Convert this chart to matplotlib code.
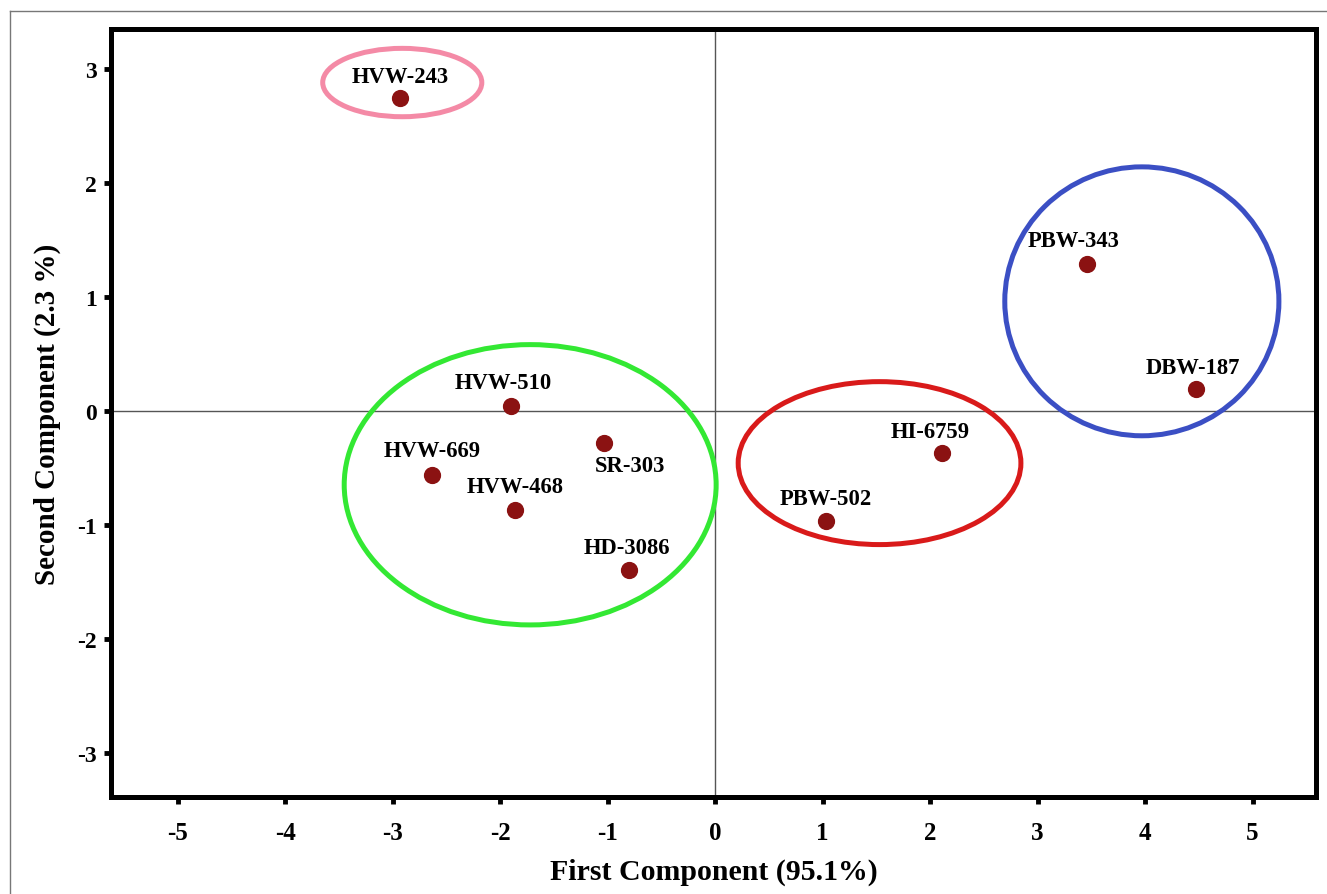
import matplotlib.pyplot as plt
from matplotlib.patches import Ellipse
from matplotlib.lines import Line2D

# 品种及主成分得分
names = ['HVW-243', 'PBW-343', 'DBW-187', 'HVW-510', 'SR-303',
         'HVW-669', 'HVW-468', 'HD-3086', 'HI-6759', 'PBW-502']
pc1 = [-2.93, 3.46, 4.47, -1.90, -1.03, -2.63, -1.86, -0.80, 2.11, 1.03]
pc2 = [2.74, 1.29, 0.19, 0.04, -0.28, -0.56, -0.87, -1.40, -0.37, -0.97]
# 标签偏移(像素)
label_dx = [0, -13, -3, -8, 26, 0, 0, -2, -12, 0]
label_dy = [22, 23, 22, 24, -23, 24, 23, 23, 21, 23]

# 聚类椭圆: 中心x, 中心y, 宽, 高, 颜色
ell_x = [-2.91, -1.72, 1.53, 3.97]
ell_y = [2.88, -0.65, -0.46, 0.96]
ell_w = [1.48, 3.46, 2.63, 2.55]
ell_h = [0.60, 2.46, 1.43, 2.36]
ell_c = ['#f48aa6', '#33e833', '#d91a1a', '#3b4fc4']

xticks = [-5, -4, -3, -2, -1, 0, 1, 2, 3, 4, 5]
yticks = [-3, -2, -1, 0, 1, 2, 3]

fig = plt.figure(figsize=(13.27, 8.95), dpi=100)
ax = fig.add_axes([0.0836, 0.1084, 0.9081, 0.8581])

ax.axhline(0, color='#555555', lw=1.0, zorder=1)
ax.axvline(0, color='#555555', lw=1.0, zorder=1)

for i in range(len(ell_x)):
    ax.add_patch(Ellipse((ell_x[i], ell_y[i]), ell_w[i], ell_h[i],
                         fill=False, edgecolor=ell_c[i], lw=3.6, zorder=2))

ax.scatter(pc1, pc2, s=130, color='#8b1212', zorder=3)
for i, n in enumerate(names):
    ax.annotate(n, (pc1[i], pc2[i]), xytext=(label_dx[i], label_dy[i]),
                textcoords='offset pixels', ha='center', va='center',
                fontsize=16.3, fontweight='bold', family='Liberation Serif', zorder=4)

ax.set_xlim(-5.62, 5.59)
ax.set_ylim(-3.39, 3.35)
ax.set_xticks(xticks)
ax.set_yticks(yticks)
ax.set_xticklabels([str(t) for t in xticks], fontsize=18, fontweight='bold', family='Liberation Serif')
ax.set_yticklabels([str(t) for t in yticks], fontsize=17, fontweight='bold', family='Liberation Serif')
ax.tick_params(direction='out', length=5, width=3.5)
ax.tick_params(axis='x', pad=12)
ax.tick_params(axis='y', pad=5)

for s in ax.spines.values():
    s.set_linewidth(3.6)

ax.set_xlabel('First Component (95.1%)', fontsize=21.5, fontweight='bold',
              family='Liberation Serif', labelpad=10)
ax.set_ylabel('Second Component (2.3 %)', fontsize=21, fontweight='bold',
              family='Liberation Serif', labelpad=12)

# 外框线
fig.add_artist(Line2D([10 / 1327, 1], [1 - 12 / 895, 1 - 12 / 895], color='#777777', lw=1))
fig.add_artist(Line2D([10 / 1327, 10 / 1327], [0, 1 - 12 / 895], color='#777777', lw=1))

fig.savefig('out.png', dpi=100)
